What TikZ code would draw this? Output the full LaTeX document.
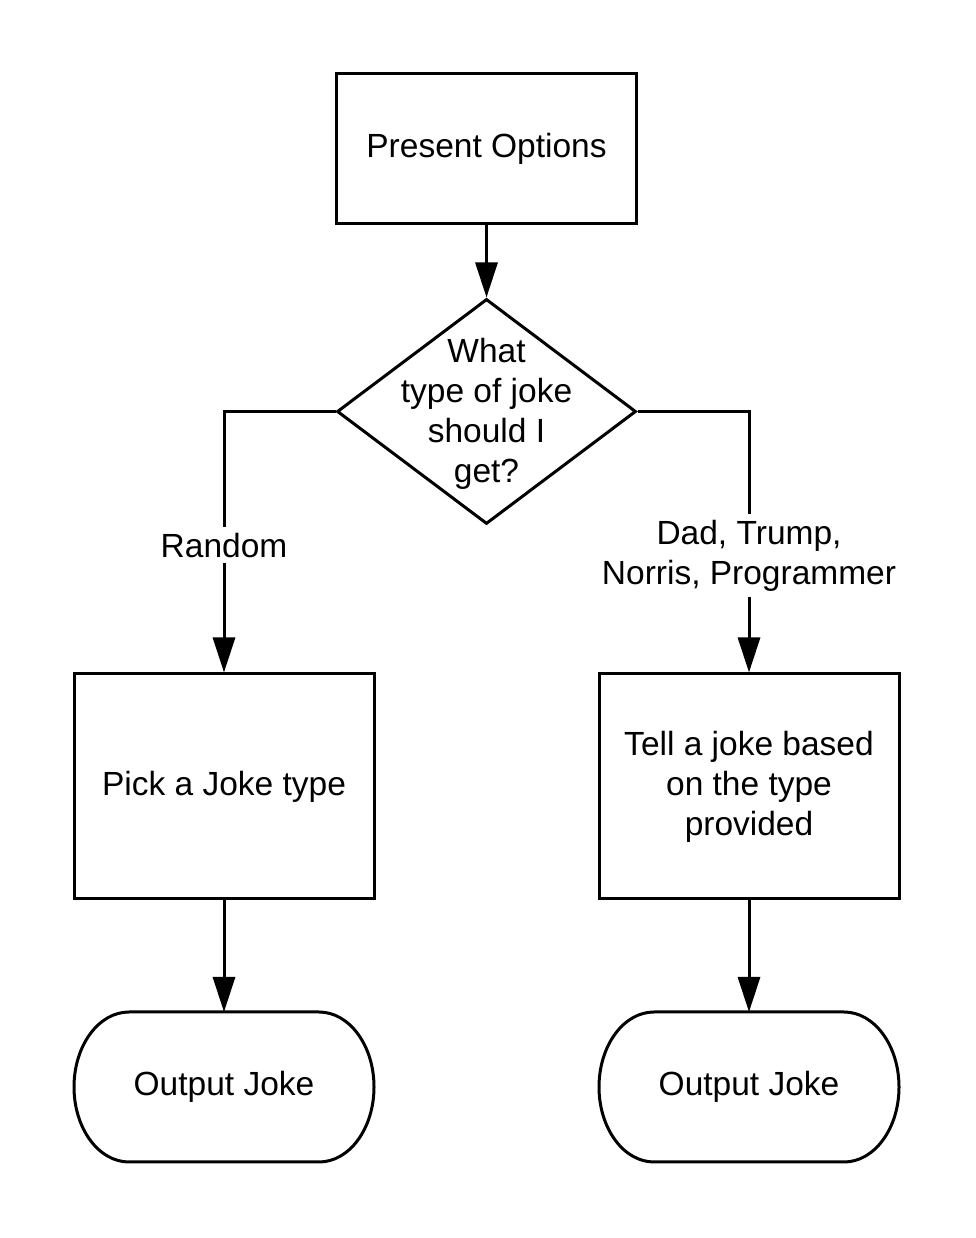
\documentclass[tikz,border=0pt]{standalone}
\usepackage{fontspec}
\setmainfont{Liberation Sans}
\usetikzlibrary{arrows.meta,shapes.geometric}
\begin{document}
\begin{tikzpicture}[x=1pt,y=1pt,
  every node/.style={font=\fontsize{33.5}{40}\selectfont},
  box/.style={draw, line width=3pt, rectangle, minimum width=300pt, inner sep=0pt, align=center},
  decision/.style={draw, line width=3pt, diamond, minimum width=299pt, minimum height=225pt, inner sep=0pt},
  term/.style={rectangle, minimum width=300pt, minimum height=150pt, inner sep=0pt, outer sep=0pt, align=center},
  outline/.style={line width=3pt},
  conn/.style={line width=3pt, -{Triangle[length=35pt,width=22pt]}},
  edgelabel/.style={fill=white, inner sep=6pt, align=center}]
\useasboundingbox (0,0) rectangle (975,1238);

\node[box, minimum height=150pt] (start) at (486.5,1089) {Present Options};
\node[decision] (d) at (486.5,826.5) {};
\node[align=center] (dtext) at ([yshift=-2.5pt]d.center) {What\\type of joke\\should I\\get?};
\node[box, minimum height=225pt] (pick) at (224,451.5) {Pick a Joke type};
\node[box, minimum height=225pt] (tell) at (749,451.5) {Tell a joke based\\on the type\\provided};
\node[term] (t1) at (224,151) {Output Joke};
\node[term] (t2) at (749,151) {Output Joke};

\foreach \t in {t1,t2}{
  \draw[outline] ([xshift=55pt]\t.north west) -- ([xshift=-55pt]\t.north east)
    arc[start angle=90,end angle=-90,x radius=55pt,y radius=75pt]
    -- ([xshift=55pt]\t.south west)
    arc[start angle=270,end angle=90,x radius=55pt,y radius=75pt] -- cycle;
}

\draw[conn] (start) -- (d);
\draw[conn] (d.west) -| node[edgelabel, pos=0.756] (lr) {Random} (pick.north);
\draw[conn] (d.east) -| node[edgelabel, pos=0.776] (ld) {Dad, Trump,\\Norris, Programmer} (tell.north);
\draw[conn] (pick) -- (t1);
\draw[conn] (tell) -- (t2);
\end{tikzpicture}
\end{document}
